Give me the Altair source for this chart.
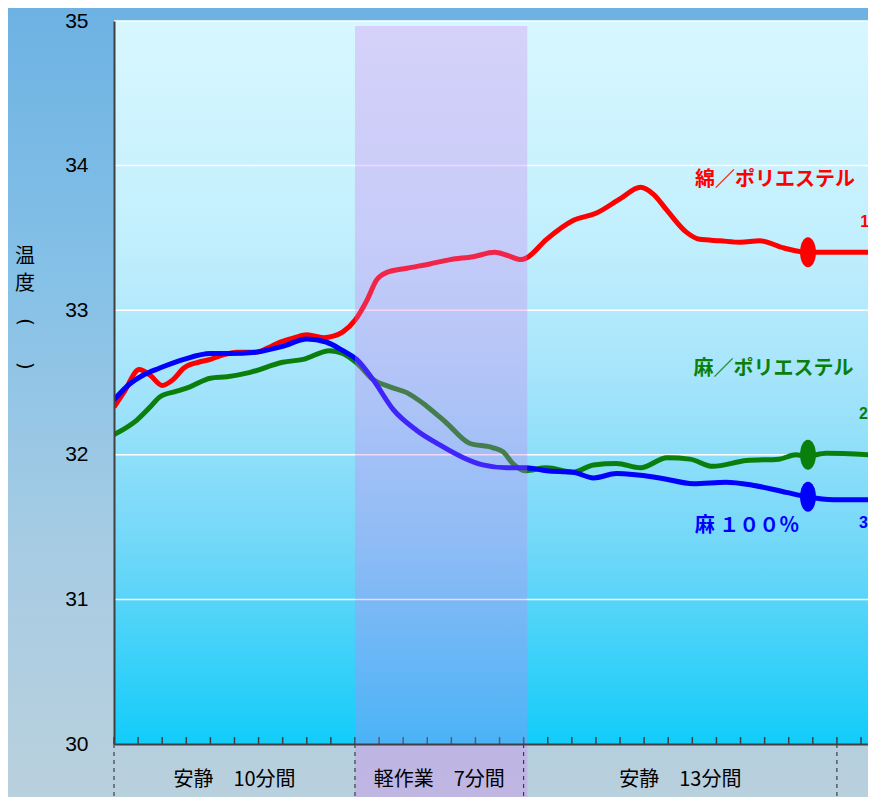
import altair as alt
import pandas as pd

# ---- data ----
red_m = [0, 0.4, 1.05, 1.5, 2.0, 2.45, 2.9, 3.5, 4.0, 4.5, 5.1, 5.9, 6.4, 6.9, 7.5, 8.0, 8.7, 9.1, 9.5,
         10.0, 10.5, 10.9, 11.3, 12.15, 13.1, 13.95, 14.9, 15.8, 16.3, 16.9, 17.1, 17.95, 19.05, 20.0,
         21.0, 21.85, 22.4, 22.95, 23.75, 24.3, 25.15, 26.0, 26.8, 27.8, 28.8, 29.7, 31.3]
red_v = [32.33, 32.43, 32.59, 32.55, 32.48, 32.52, 32.60, 32.64, 32.66, 32.69, 32.71, 32.71, 32.74,
         32.78, 32.81, 32.83, 32.81, 32.82, 32.85, 32.93, 33.07, 33.21, 33.26, 33.29, 33.32, 33.35,
         33.37, 33.40, 33.38, 33.35, 33.36, 33.49, 33.62, 33.67, 33.77, 33.85, 33.80, 33.69, 33.54,
         33.49, 33.48, 33.47, 33.48, 33.43, 33.40, 33.40, 33.40]

green_m = [0, 0.95, 1.5, 1.9, 2.6, 3.15, 4.0, 4.7, 5.65, 7.0, 7.85, 8.95, 9.5, 10.1, 10.75, 11.45, 12.15,
           12.95, 13.8, 14.75, 15.7, 16.15, 16.55, 17.05, 17.95, 19.05, 19.9, 20.85, 21.85, 22.95,
           23.9, 24.85, 26.25, 27.6, 28.3, 28.75, 29.55, 31.3]
green_v = [32.14, 32.24, 32.33, 32.40, 32.44, 32.47, 32.53, 32.54, 32.57, 32.64, 32.66, 32.72, 32.70,
           32.63, 32.52, 32.47, 32.43, 32.34, 32.22, 32.08, 32.05, 32.02, 31.94, 31.89, 31.91, 31.88,
           31.93, 31.94, 31.91, 31.98, 31.97, 31.92, 31.96, 31.97, 32.00, 31.99, 32.01, 32.00]

blue_m = [0, 0.65, 1.2, 1.9, 2.9, 4.0, 4.8, 5.9, 7.0, 8.0, 8.8, 9.5, 10.07, 10.75, 11.6, 12.55, 13.5,
          14.5, 15.3, 16.3, 17.1, 17.95, 19.05, 19.9, 20.85, 22.65, 24.05, 25.4, 26.5, 27.9, 28.75,
          29.85, 31.3]
blue_v = [32.38, 32.49, 32.55, 32.60, 32.66, 32.70, 32.70, 32.71, 32.75, 32.80, 32.78, 32.72, 32.66,
          32.52, 32.31, 32.17, 32.07, 31.98, 31.93, 31.91, 31.91, 31.89, 31.88, 31.84, 31.87, 31.84,
          31.80, 31.81, 31.79, 31.74, 31.71, 31.69, 31.69]

series = ["1", "2", "3"]
series_colors = ["#ff0000", "#0b7f0b", "#0000ff"]

marker_m = [28.8, 28.8, 28.8]
marker_v = [33.40, 32.00, 31.71]

label_text = ["綿／ポリエステル", "麻／ポリエステル", "麻 １００％"]
label_m = [27.43, 27.37, 26.27]
label_v = [33.90, 32.59, 31.51]

num_m = [31.15, 31.1, 31.1]
num_v = [33.61, 32.28, 31.53]

phase_text = ["安静　10分間", "軽作業　7分間", "安静　13分間"]
phase_mid = [5, 13.5, 23.5]
phase_bounds = [0, 10, 17, 30]
work_start, work_end = 10, 17.15

grid_values = [31, 32, 33, 34, 35]
tick_minutes = list(range(0, 32))
y_ticks = [30, 31, 32, 33, 34, 35]

W, H = 754, 723
XMAX = 31.29

# ---- tables ----
lines = pd.concat([
    pd.DataFrame({"s": "1", "m": red_m, "v": red_v}),
    pd.DataFrame({"s": "2", "m": green_m, "v": green_v}),
    pd.DataFrame({"s": "3", "m": blue_m, "v": blue_v}),
])
markers = pd.DataFrame({"s": series, "m": marker_m, "v": marker_v})
labels = pd.DataFrame({"s": series, "t": label_text, "m": label_m, "v": label_v})
nums = pd.DataFrame({"s": series, "t": series, "m": num_m, "v": num_v})
phases = pd.DataFrame({"t": phase_text, "m": phase_mid})
bounds = pd.DataFrame({"m": phase_bounds})
band = pd.DataFrame({"a": [work_start], "b": [work_end]})
grid = pd.DataFrame({"v": grid_values})
ticks = pd.DataFrame({"m": tick_minutes})
one = pd.DataFrame({"k": [0]})

xs = alt.Scale(domain=[0, XMAX], nice=False, zero=False)
ys = alt.Scale(domain=[30, 35], nice=False, zero=False)
cs = alt.Scale(domain=series, range=series_colors)

x_axis = alt.Axis(labels=False, ticks=False, grid=False, domain=True, domainColor="#404040",
                  domainWidth=2, title=None, zindex=1)
y_axis = alt.Axis(values=y_ticks, format="d", grid=False, ticks=False, domain=True,
                  domainColor="#404040", domainWidth=2, labelFont="Liberation Sans",
                  labelFontSize=21, labelColor="black", labelPadding=26, title=None, zindex=1)

outer_bg = alt.Chart(one).mark_rect(
    color=alt.LinearGradient(gradient="linear", x1=0, x2=0, y1=0, y2=1, stops=[
        alt.GradientStop(color="#6db2e3", offset=0),
        alt.GradientStop(color="#86c1e7", offset=0.35),
        alt.GradientStop(color="#a8cce3", offset=0.7),
        alt.GradientStop(color="#b9d0dd", offset=1)])
).encode(x=alt.value(-106), x2=alt.value(W), y=alt.value(-13), y2=alt.value(H + 53))

plot_bg = alt.Chart(one).mark_rect(
    color=alt.LinearGradient(gradient="linear", x1=0, x2=0, y1=0, y2=1, stops=[
        alt.GradientStop(color="#d8f7ff", offset=0),
        alt.GradientStop(color="#c2effd", offset=0.3),
        alt.GradientStop(color="#a4e4fb", offset=0.5),
        alt.GradientStop(color="#74d8f8", offset=0.72),
        alt.GradientStop(color="#12ccfa", offset=1)])
).encode(x=alt.value(0), x2=alt.value(W), y=alt.value(0), y2=alt.value(H))

# vertical y-axis title: 温 度 ︵ ︶ (the ℃ glyph is blank in the reference)
title_font = dict(font="Noto Sans CJK JP", fontSize=20, color="black", align="center",
                  baseline="middle")
t1 = alt.Chart(one).mark_text(text="温", **title_font).encode(x=alt.value(-89), y=alt.value(236))
t2 = alt.Chart(one).mark_text(text="度", **title_font).encode(x=alt.value(-89), y=alt.value(263))
t3 = alt.Chart(one).mark_text(text="(", font="DejaVu Sans", fontSize=20, color="black",
                              align="center", baseline="middle", angle=90).encode(
    x=alt.value(-89), y=alt.value(301))
t4 = alt.Chart(one).mark_text(text=")", font="DejaVu Sans", fontSize=20, color="black",
                              align="center", baseline="middle", angle=90).encode(
    x=alt.value(-89), y=alt.value(345))

grid_rules = alt.Chart(grid).mark_rule(color="white", strokeWidth=1.5).encode(
    y=alt.Y("v:Q", scale=ys, axis=y_axis), x=alt.value(0), x2=alt.value(W))

line_layer = alt.Chart(lines).mark_line(strokeWidth=5, interpolate="monotone", clip=True).encode(
    x=alt.X("m:Q", scale=xs, axis=x_axis),
    y=alt.Y("v:Q", scale=ys, axis=y_axis),
    color=alt.Color("s:N", scale=cs, legend=None),
    detail="s:N")

ellipse = "M -0.53 0 A 0.53 1 0 1 0 0.53 0 A 0.53 1 0 1 0 -0.53 0 Z"
marker_layer = alt.Chart(markers).mark_point(shape=ellipse, size=900, filled=True, opacity=1).encode(
    x=alt.X("m:Q", scale=xs), y=alt.Y("v:Q", scale=ys),
    color=alt.Color("s:N", scale=cs, legend=None))

tick_layer = alt.Chart(ticks).mark_rule(color="#404040", strokeWidth=1.5).encode(
    x=alt.X("m:Q", scale=xs), y=alt.value(H - 7), y2=alt.value(H))

band_layer = alt.Chart(band).mark_rect(color="#d07cf0", opacity=0.3).encode(
    x=alt.X("a:Q", scale=xs), x2="b:Q", y=alt.value(5), y2=alt.value(H + 70))

bound_layer = alt.Chart(bounds).mark_rule(color="#222222", strokeWidth=1, strokeDash=[4, 4]).encode(
    x=alt.X("m:Q", scale=xs), y=alt.value(H), y2=alt.value(H + 70))

phase_layer = alt.Chart(phases).mark_text(font="Noto Sans CJK JP", fontSize=20, color="black",
                                          baseline="middle", align="center").encode(
    x=alt.X("m:Q", scale=xs), y=alt.value(H + 36), text="t:N")

label_layer = alt.Chart(labels).mark_text(font="Noto Sans CJK JP", fontSize=20, fontWeight="bold",
                                          baseline="middle", align="center").encode(
    x=alt.X("m:Q", scale=xs), y=alt.Y("v:Q", scale=ys), text="t:N",
    color=alt.Color("s:N", scale=cs, legend=None))

num_layer = alt.Chart(nums).mark_text(font="Liberation Sans", fontSize=16, fontWeight="bold",
                                      baseline="middle", align="center").encode(
    x=alt.X("m:Q", scale=xs), y=alt.Y("v:Q", scale=ys), text="t:N",
    color=alt.Color("s:N", scale=cs, legend=None))

chart = alt.layer(
    outer_bg, plot_bg, t1, t2, t3, t4, grid_rules, line_layer, marker_layer, tick_layer,
    band_layer, bound_layer, phase_layer, label_layer, num_layer
).properties(
    width=W, height=H,
    autosize=alt.AutoSizeParams(type="none"),
    padding={"left": 106, "top": 13, "right": 0, "bottom": 53},
).configure(background="#8fc3e6").configure_view(stroke=None)

chart.save("out.html", embed_options={"renderer": "svg", "actions": False})
